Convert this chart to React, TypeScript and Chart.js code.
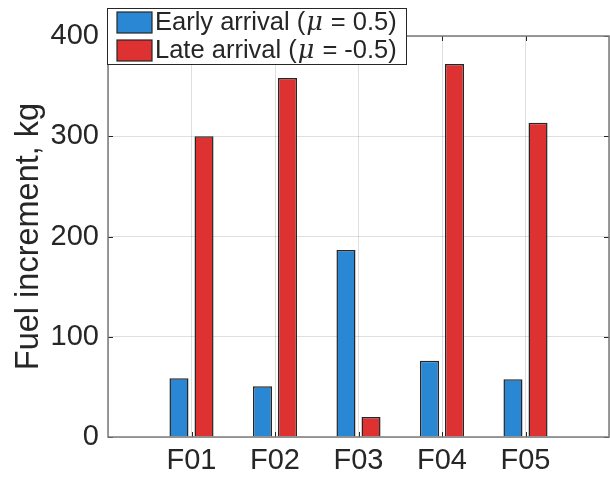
import React, { useEffect, useRef } from "react";
import { Chart, registerables } from "chart.js";

Chart.register(...registerables);

const categories = ["F01", "F02", "F03", "F04", "F05"];
const earlyValues = [58.5, 50.5, 186.5, 76, 57.5];
const lateValues = [300, 358, 20, 372, 313.5];
const seriesNames = ["Early arrival (\u03bc = 0.5)", "Late arrival (\u03bc = -0.5)"];
const seriesColors = ["#2a87d3", "#de3131"];
const yTicks = [0, 100, 200, 300, 400];
const yTitle = "Fuel increment, kg";

const FONT = "'Liberation Sans', Arial, Helvetica, sans-serif";
const TEXT = "#262626";

const boxPlugin = {
  id: "matlabBox",
  afterDatasetsDraw(chart: any) {
    const { ctx, chartArea } = chart;
    const { left, right, top, bottom } = chartArea;
    const xs = chart.scales.x;
    const ys = chart.scales.y;
    ctx.save();
    ctx.strokeStyle = "#262626";
    ctx.lineWidth = 1;
    const tl = 5;
    ctx.beginPath();
    for (let i = 1; i <= categories.length; i++) {
      const px = Math.round(xs.getPixelForValue(i)) + 0.5;
      ctx.moveTo(px, bottom);
      ctx.lineTo(px, bottom - tl);
      ctx.moveTo(px, top);
      ctx.lineTo(px, top + tl);
    }
    for (const v of yTicks) {
      const py = Math.round(ys.getPixelForValue(v)) + 0.5;
      ctx.moveTo(left, py);
      ctx.lineTo(left + tl, py);
      ctx.moveTo(right, py);
      ctx.lineTo(right - tl, py);
    }
    ctx.stroke();
    ctx.strokeStyle = "#7a7a7a";
    ctx.lineWidth = 1.5;
    ctx.strokeRect(left, top, right - left, bottom - top);
    ctx.restore();
  },
  afterDraw(chart: any) {
    const { ctx } = chart;
    const bx = 107, by = 8, bw = 299, bh = 56;
    ctx.save();
    ctx.fillStyle = "#ffffff";
    ctx.fillRect(bx, by, bw, bh);
    ctx.strokeStyle = "#262626";
    ctx.lineWidth = 1;
    ctx.strokeRect(bx + 0.5, by + 0.5, bw, bh);
    const size = 25.5;
    chart.data.datasets.forEach((ds: any, i: number) => {
      const sy = by + 4 + i * 28;
      ctx.fillStyle = ds.backgroundColor;
      ctx.fillRect(bx + 10, sy, 35, 21);
      ctx.strokeStyle = "#262626";
      ctx.lineWidth = 1.2;
      ctx.strokeRect(bx + 10, sy, 35, 21);
      const label: string = ds.label;
      const parts = label.split("\u03bc");
      let x = bx + 48;
      const ty = sy + 11;
      ctx.fillStyle = TEXT;
      ctx.textBaseline = "middle";
      ctx.textAlign = "left";
      parts.forEach((p, j) => {
        ctx.font = `${size}px ${FONT}`;
        ctx.fillText(p, x, ty);
        x += ctx.measureText(p).width;
        if (j < parts.length - 1) {
          ctx.font = `italic ${size}px 'DejaVu Serif', serif`;
          ctx.fillText("\u03bc", x + 1, ty);
          x += ctx.measureText("\u03bc").width + 2;
        }
      });
    });
    ctx.restore();
  },
};

export default function App() {
  const ref = useRef<HTMLCanvasElement | null>(null);
  useEffect(() => {
    if (!ref.current) return;
    const labels = ["", ...categories, ""];
    const pad = (a: number[]) => [null, ...a, null];
    const chart = new Chart(ref.current, {
      type: "bar",
      data: {
        labels,
        datasets: [
          {
            label: seriesNames[0],
            data: pad(earlyValues) as any,
            backgroundColor: seriesColors[0],
            borderColor: "#262626",
            borderWidth: 1.5,
            categoryPercentage: 0.6,
            barPercentage: 0.76,
          },
          {
            label: seriesNames[1],
            data: pad(lateValues) as any,
            backgroundColor: seriesColors[1],
            borderColor: "#262626",
            borderWidth: 1.5,
            categoryPercentage: 0.6,
            barPercentage: 0.76,
          },
        ],
      },
      options: {
        animation: false,
        responsive: false,
        layout: { padding: { top: 36, right: 1, left: 0, bottom: 0 } },
        plugins: { legend: { display: false }, tooltip: { enabled: false } },
        scales: {
          x: {
            offset: false,
            grid: { offset: false, color: "rgba(38,38,38,0.15)", drawTicks: false },
            border: { display: false },
            ticks: {
              color: TEXT,
              font: { family: FONT, size: 29 },
              padding: 7,
              maxRotation: 0,
              autoSkip: false,
            },
            afterFit(scale: any) {
              scale.height = 43;
              scale.paddingLeft = 0;
              scale.paddingRight = 0;
            },
          },
          y: {
            min: 0,
            max: 400,
            grid: { color: "rgba(38,38,38,0.15)", drawTicks: false },
            border: { display: false },
            ticks: {
              stepSize: 100,
              color: TEXT,
              font: { family: FONT, size: 29 },
              padding: 9,
            },
            title: {
              display: true,
              text: yTitle,
              color: TEXT,
              font: { family: FONT, size: 32.5 },
              padding: { top: 10, bottom: 0 },
            },
            afterFit(scale: any) {
              scale.width = 108;
            },
          },
        },
      },
      plugins: [boxPlugin],
    });
    return () => chart.destroy();
  }, []);
  return (
    <div style={{ position: "fixed", left: 0, top: 0, width: 610, height: 480, background: "#fff" }}>
      <canvas ref={ref} width={610} height={480} style={{ display: "block", width: 610, height: 480 }} />
    </div>
  );
}
